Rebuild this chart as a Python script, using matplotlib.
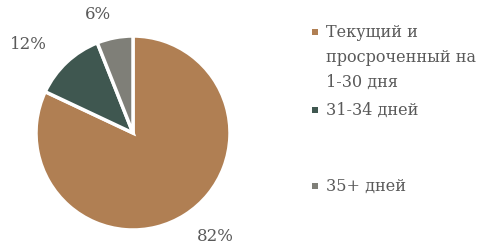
import matplotlib
matplotlib.use('Agg')
import matplotlib.pyplot as plt
from matplotlib.patches import Rectangle
import numpy as np

labels = ['Текущий и\nпросроченный на\n1-30 дня', '31-34 дней', '35+ дней']
values = [82, 12, 6]
colors = ['#B07F53', '#3F5750', '#7F7F78']
text_color = '#595959'

plt.rcParams['font.family'] = ['DejaVu Serif']

W, H = 487, 246
fig = plt.figure(figsize=(W / 100, H / 100), dpi=100)

# pie axes: center (133, 133) px, radius ~97 px
cx, cy, r = 133, 133, 97
ax = fig.add_axes([(cx - r) / W, (H - cy - r) / H, 2 * r / W, 2 * r / H])
wedges, _, autotexts = ax.pie(values, colors=colors, startangle=90, counterclock=False,
                              autopct='%1.0f%%', pctdistance=1.3,
                              wedgeprops=dict(edgecolor='white', linewidth=2.5),
                              textprops=dict(color=text_color, fontsize=12))
ax.set_xlim(-1, 1)
ax.set_ylim(-1, 1)
ax.set_aspect('equal')

# label positions as in the reference (Excel "outside end")
label_pos = [(0.85, -1.07), (-1.08, 0.91), (-0.36, 1.22)]
for t, (x, y) in zip(autotexts, label_pos):
    t.set_position((x, y))
    t.set_ha('center')
    t.set_va('center')

# legend drawn by hand
legend_y = [32, 110, 186]
for lab, col, y in zip(labels, colors, legend_y):
    fig.patches.append(Rectangle((312 / W, (H - y - 3) / H), 6 / W, 6 / H,
                                 transform=fig.transFigure, facecolor=col, edgecolor='none'))
    fig.text(326 / W, (H - y + 8) / H, lab, ha='left', va='top', color=text_color,
             fontsize=11.5, linespacing=1.6)

fig.savefig('out.png', dpi=100)
